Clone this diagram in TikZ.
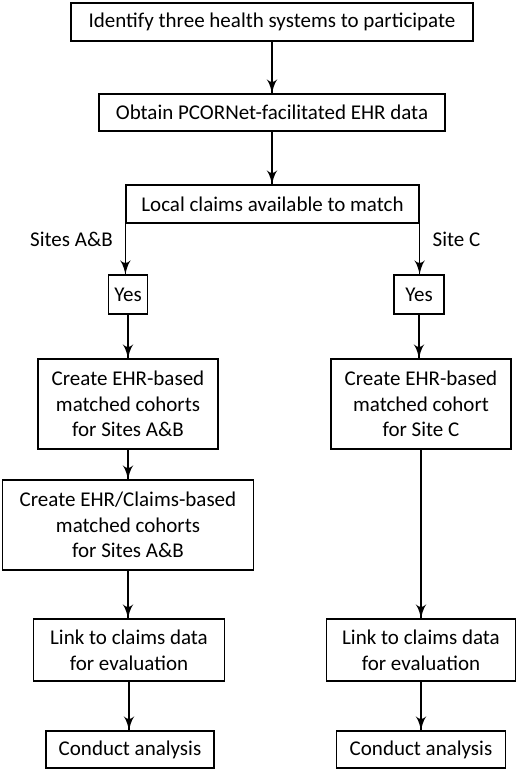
\documentclass[tikz,border=0pt]{standalone}
\usepackage{fontspec}
\setmainfont{Carlito}
\usetikzlibrary{arrows}
\usetikzlibrary{decorations.markings}
\tikzset{->/.style = {decoration={markings,
                                  mark=at position 1 with {\arrow[scale=2.2]{latex'}}},
                      postaction={decorate}}}
\tikzset{box/.style = {draw, line width=1.2, inner sep=0, align=center}}

\begin{document}
\begin{tikzpicture}[x=1pt, y=-1pt, line width=1.2,
                    font=\fontsize{21}{25.6}\selectfont]
      \useasboundingbox (0, 0) rectangle (520, 772);
      \node [box, minimum width=402, minimum height=38] (ident) at (272, 22)
            {Identify three health systems to participate};
      \node [box, minimum width=346, minimum height=37] (obtain) at (272, 112.5)
            {Obtain PCORNet-facilitated EHR data};
      \node [box, minimum width=293, minimum height=38] (local) at (272.5, 204)
            {Local claims available to match};
      \node (sitesab) at (71.5, 239) {Sites A\&B};
      \node (sitec) at (456.5, 239) {Site C};
      \node [box, minimum width=39, minimum height=39] (yesab) at (128, 294.5) {Yes};
      \node [box, minimum width=50, minimum height=39] (yesc) at (419, 294.5) {Yes};
      \node [box, minimum width=180, minimum height=90] (ehrab) at (128, 404)
            {Create EHR-based\\matched cohorts\\for Sites A\&B};
      \node [box, minimum width=180, minimum height=90] (ehrc) at (421, 404)
            {Create EHR-based\\matched cohort\\for Site C};
      \node [box, minimum width=251, minimum height=90] (claimsab) at (128, 525)
            {Create EHR/Claims-based\\matched cohorts\\for Sites A\&B};
      \node [box, minimum width=191, minimum height=62] (linkab) at (129, 650)
            {Link to claims data\\for evaluation};
      \node [box, minimum width=189, minimum height=62] (linkc) at (421, 650)
            {Link to claims data\\for evaluation};
      \node [box, minimum width=168, minimum height=37] (condab) at (130, 749.5)
            {Conduct analysis};
      \node [box, minimum width=169, minimum height=37] (condc) at (421, 749.5)
            {Conduct analysis};
      \draw [->] (ident) -- (obtain);
      \draw [->] (obtain.south) -- (obtain.south |- local.north);
      \draw [->] (local.south west) -- (local.south west |- yesab.north);
      \draw [->] (local.south east) -- (local.south east |- yesc.north);
      \draw [->] (yesab) -- (ehrab);
      \draw [->] (yesc.south) -- (yesc.south |- ehrc.north);
      \draw [->] (ehrab) -- (claimsab);
      \draw [->] (ehrc) -- (linkc);
      \draw [->] (claimsab.south) -- (claimsab.south |- linkab.north);
      \draw [->] (linkab.south) -- (linkab.south |- condab.north);
      \draw [->] (linkc) -- (condc);
    \end{tikzpicture}
\end{document}
